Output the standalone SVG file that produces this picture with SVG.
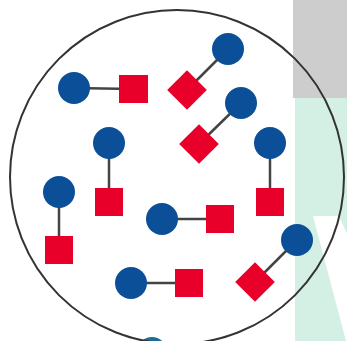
<svg xmlns="http://www.w3.org/2000/svg" width="347" height="341" viewBox="0 0 347 341">
<style>
.b{fill:#0b4f98}
.r{fill:#e8002b}
.l{stroke:#444;stroke-width:2.5;fill:none}
</style>
<rect width="347" height="341" fill="#fff"/>
<rect x="293" y="0" width="54" height="98" fill="#cdcdcd"/>
<rect x="295" y="98" width="52" height="243" fill="#d4efe4"/>
<polygon points="313,216 339,216 347,234 347,341 346,341" fill="#fff"/>
<circle cx="152" cy="352" r="15" fill="#1c6f92"/>
<g id="connectors">
<line class="l" x1="74" y1="88" x2="133" y2="89"/>
<line class="l" x1="228" y1="49" x2="187" y2="90"/>
<line class="l" x1="241" y1="103" x2="199" y2="144"/>
<line class="l" x1="109" y1="143" x2="109" y2="202"/>
<line class="l" x1="270" y1="143" x2="270" y2="202"/>
<line class="l" x1="59" y1="192" x2="59" y2="250"/>
<line class="l" x1="162" y1="219" x2="220" y2="219"/>
<line class="l" x1="297" y1="240" x2="255" y2="282"/>
<line class="l" x1="131" y1="283" x2="189" y2="283"/>
</g>
<g id="n1"><circle class="b" cx="74" cy="88" r="16"/><rect class="r" x="119" y="75" width="29" height="28"/></g>
<g id="n2"><circle class="b" cx="228" cy="49" r="16"/><rect class="r" x="173" y="76" width="28" height="28" transform="rotate(45 187 90)"/></g>
<g id="n3"><circle class="b" cx="241" cy="103" r="16"/><rect class="r" x="185" y="130" width="28" height="28" transform="rotate(45 199 144)"/></g>
<g id="n4"><circle class="b" cx="109" cy="143" r="16"/><rect class="r" x="95" y="188" width="28" height="28"/></g>
<g id="n5"><circle class="b" cx="270" cy="143" r="16"/><rect class="r" x="256" y="188" width="28" height="28"/></g>
<g id="n6"><circle class="b" cx="59" cy="192" r="16"/><rect class="r" x="45" y="236" width="28" height="28"/></g>
<g id="n7"><circle class="b" cx="162" cy="219" r="16"/><rect class="r" x="206" y="205" width="28" height="28"/></g>
<g id="n8"><circle class="b" cx="297" cy="240" r="16"/><rect class="r" x="241" y="268" width="28" height="28" transform="rotate(45 255 282)"/></g>
<g id="n9"><circle class="b" cx="131" cy="283" r="16"/><rect class="r" x="175" y="269" width="28" height="28"/></g>
<circle id="boundary" cx="177" cy="177" r="167" fill="none" stroke="#333" stroke-width="2"/>
</svg>
